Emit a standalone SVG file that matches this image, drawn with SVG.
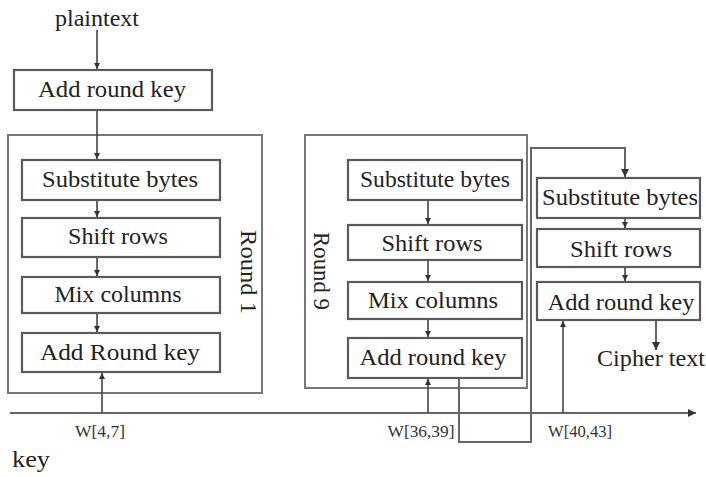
<svg xmlns="http://www.w3.org/2000/svg" width="706" height="477" viewBox="0 0 706 477">
<defs>
<marker id="ah" viewBox="0 0 6 6" refX="6" refY="3" markerWidth="4" markerHeight="4" orient="auto">
<path d="M0,0 L6,3 L0,6 z" fill="#333"/>
</marker>
<style>
.box{fill:#fff;stroke:#5a5a5a;stroke-width:2.2}
.outer{fill:none;stroke:#777;stroke-width:2}
text{font-family:'Liberation Serif','DejaVu Serif',serif}
.t{font-size:23px;fill:#222;text-anchor:middle}
.s{font-size:17px;fill:#333;text-anchor:middle}
.c{fill:none;stroke:#444;stroke-width:1.6}
.ck{fill:none;stroke:#666;stroke-width:2}
</style>
</defs>
<rect width="706" height="477" fill="#fff"/>
<text class="t" x="97" y="26" textLength="84" lengthAdjust="spacingAndGlyphs">plaintext</text>
<g id="round1-box"><rect class="outer" x="8" y="135" width="254" height="258"/>
<text class="t" transform="translate(241,272) rotate(90)" textLength="84" lengthAdjust="spacingAndGlyphs">Round 1</text></g>
<g id="round9-box"><rect class="outer" x="305" y="135" width="222" height="253"/>
<text class="t" transform="translate(314,271) rotate(90)" textLength="78" lengthAdjust="spacingAndGlyphs">Round 9</text></g>
<g id="add0"><rect class="box" x="14" y="70" width="198" height="40"/><text class="t" x="112" y="97" textLength="148" lengthAdjust="spacingAndGlyphs">Add round key</text></g>
<g id="r1-sub"><rect class="box" x="22" y="160" width="198" height="40"/><text class="t" x="120" y="187" textLength="156" lengthAdjust="spacingAndGlyphs">Substitute bytes</text></g>
<g id="r1-shift"><rect class="box" x="22" y="218" width="198" height="39"/><text class="t" x="118" y="244" textLength="100" lengthAdjust="spacingAndGlyphs">Shift rows</text></g>
<g id="r1-mix"><rect class="box" x="22" y="277" width="198" height="36"/><text class="t" x="118" y="302" textLength="127" lengthAdjust="spacingAndGlyphs">Mix columns</text></g>
<g id="r1-add"><rect class="box" x="22" y="333" width="198" height="39"/><text class="t" x="120" y="360" textLength="160" lengthAdjust="spacingAndGlyphs">Add Round key</text></g>
<g id="r9-sub"><rect class="box" x="348" y="160" width="174" height="40"/><text class="t" x="435" y="187" textLength="150" lengthAdjust="spacingAndGlyphs">Substitute bytes</text></g>
<g id="r9-shift"><rect class="box" x="348" y="225" width="174" height="35"/><text class="t" x="432" y="251" textLength="101" lengthAdjust="spacingAndGlyphs">Shift rows</text></g>
<g id="r9-mix"><rect class="box" x="348" y="282" width="174" height="37"/><text class="t" x="433" y="308" textLength="130" lengthAdjust="spacingAndGlyphs">Mix columns</text></g>
<g id="r9-add"><rect class="box" x="348" y="338" width="174" height="40"/><text class="t" x="433" y="365" textLength="147" lengthAdjust="spacingAndGlyphs">Add round key</text></g>
<g id="f-sub"><rect class="box" x="537" y="178" width="163" height="40"/><text class="t" x="620" y="205" textLength="156" lengthAdjust="spacingAndGlyphs">Substitute bytes</text></g>
<g id="f-shift"><rect class="box" x="537" y="229" width="163" height="38"/><text class="t" x="621" y="257" textLength="102" lengthAdjust="spacingAndGlyphs">Shift rows</text></g>
<g id="f-add"><rect class="box" x="537" y="282" width="163" height="38"/><text class="t" x="621" y="310" textLength="147" lengthAdjust="spacingAndGlyphs">Add round key</text></g>
<g id="cipher"><text class="t" x="651" y="366" textLength="108" lengthAdjust="spacingAndGlyphs">Cipher text</text></g>
<g id="key"><text class="t" x="31" y="467" textLength="38" lengthAdjust="spacingAndGlyphs">key</text>
<text class="s" x="100" y="437" textLength="50" lengthAdjust="spacingAndGlyphs">W[4,7]</text>
<text class="s" x="421" y="437" textLength="67" lengthAdjust="spacingAndGlyphs">W[36,39]</text>
<text class="s" x="580" y="437" textLength="64" lengthAdjust="spacingAndGlyphs">W[40,43]</text></g>
<g id="connectors">
<line class="ck" x1="10" y1="413" x2="696" y2="413" marker-end="url(#ah)"/>
<line class="c" x1="97" y1="30" x2="97" y2="69" marker-end="url(#ah)"/>
<line class="c" x1="97" y1="111" x2="97" y2="159" marker-end="url(#ah)"/>
<line class="c" x1="97" y1="201" x2="97" y2="217" marker-end="url(#ah)"/>
<line class="c" x1="97" y1="258" x2="97" y2="276" marker-end="url(#ah)"/>
<line class="c" x1="97" y1="314" x2="97" y2="332" marker-end="url(#ah)"/>
<line class="c" x1="102" y1="413" x2="102" y2="373" marker-end="url(#ah)"/>
<line class="c" x1="428" y1="201" x2="428" y2="224" marker-end="url(#ah)"/>
<line class="c" x1="428" y1="261" x2="428" y2="281" marker-end="url(#ah)"/>
<line class="c" x1="428" y1="320" x2="428" y2="337" marker-end="url(#ah)"/>
<line class="c" x1="428" y1="413" x2="428" y2="379" marker-end="url(#ah)"/>
<path class="ck" d="M459,379 V442 H531 V148 H625 V177" marker-end="url(#ah)"/>
<line class="c" x1="625" y1="219" x2="625" y2="228" marker-end="url(#ah)"/>
<line class="c" x1="625" y1="268" x2="625" y2="281" marker-end="url(#ah)"/>
<line class="c" x1="563" y1="413" x2="563" y2="321" marker-end="url(#ah)"/>
<line class="ck" x1="656" y1="321" x2="656" y2="350" marker-end="url(#ah)"/>
</g>
</svg>
